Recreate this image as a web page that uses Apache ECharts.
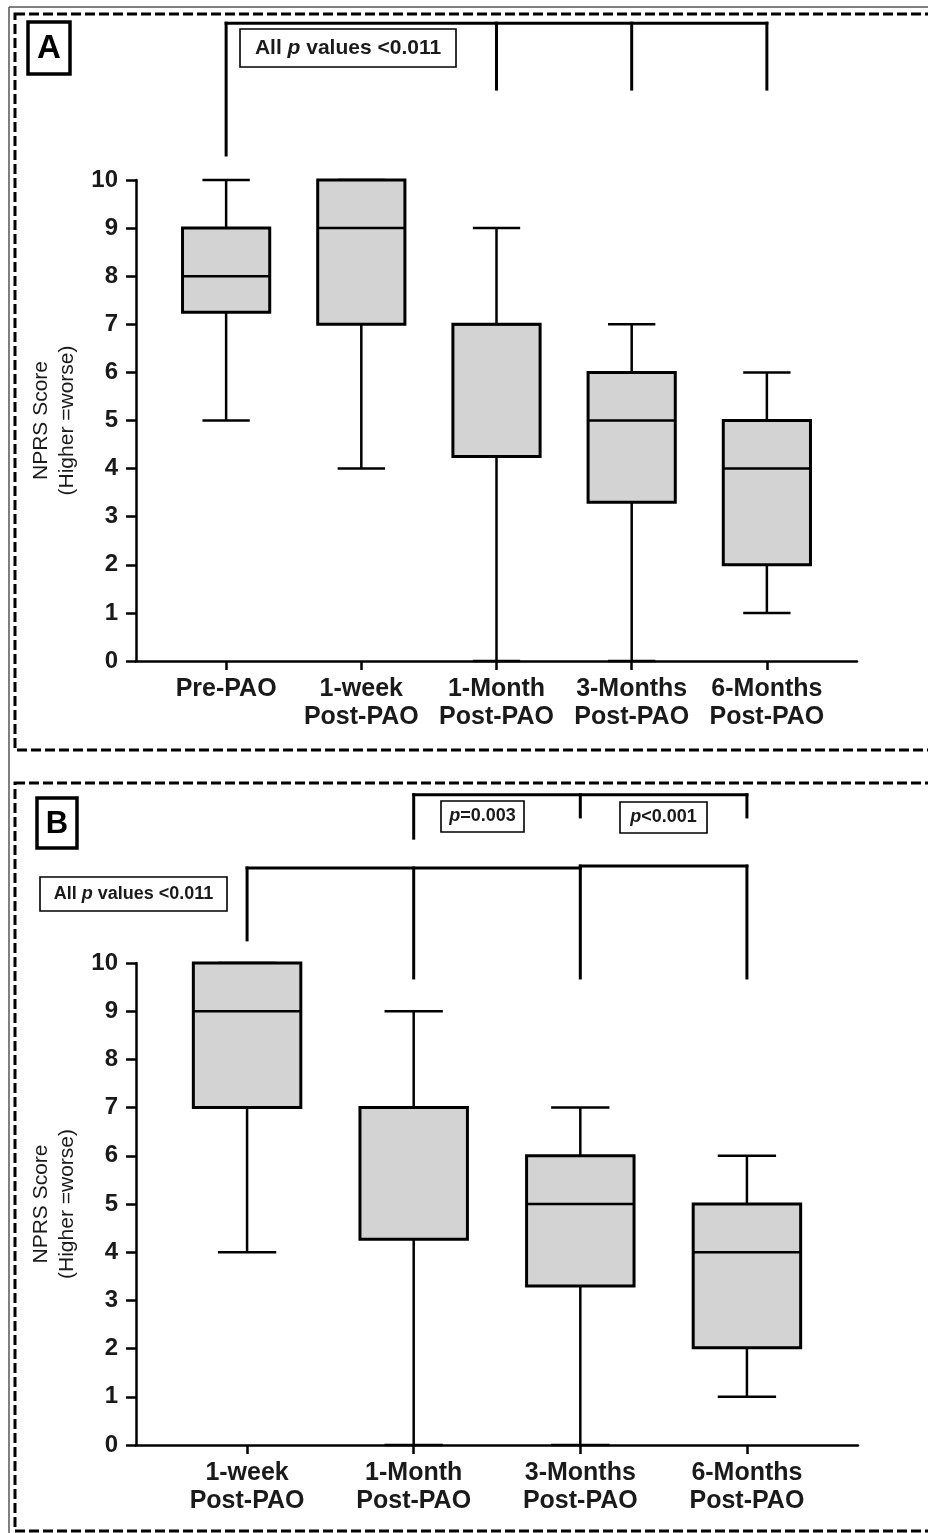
<!DOCTYPE html>
<html>
<head>
<meta charset="utf-8">
<script src="https://cdn.jsdelivr.net/npm/echarts@6/dist/echarts.min.js"></script>
<style>
html,body{margin:0;padding:0;background:#ffffff;}
#c{width:928px;height:1533px;}
</style>
</head>
<body>
<div id="c"></div>
<script>
// ---------- DATA ----------
const categoriesA = ['Pre-PAO', '1-week\nPost-PAO', '1-Month\nPost-PAO', '3-Months\nPost-PAO', '6-Months\nPost-PAO'];
const minA    = [5, 4, 0, 0, 1];
const q1A     = [7.25, 7, 4.25, 3.3, 2];
const medianA = [8, 9, 7, 5, 4];
const q3A     = [9, 10, 7, 6, 5];
const maxA    = [10, 10, 9, 7, 6];

const categoriesB = ['1-week\nPost-PAO', '1-Month\nPost-PAO', '3-Months\nPost-PAO', '6-Months\nPost-PAO'];
const minB    = [4, 0, 0, 1];
const q1B     = [7, 4.27, 3.3, 2.02];
const medianB = [9, 7, 5, 4];
const q3B     = [10, 7, 6, 5];
const maxB    = [10, 9, 7, 6];

const yTicks = [0, 1, 2, 3, 4, 5, 6, 7, 8, 9, 10];
const yAxisName = 'NPRS Score\n(Higher =worse)';

// significance brackets (segments in axis units: [x1, y1, x2, y2])
const bracketsA = [
  [0, 13.26, 4, 13.26],
  [0, 13.26, 0, 10.52],
  [2, 13.26, 2, 11.89],
  [3, 13.26, 3, 11.89],
  [4, 13.26, 4, 11.89]
];
const bracketsB = [
  [0, 11.97, 2, 11.97],
  [2, 12.01, 3, 12.01],
  [0, 11.97, 0, 10.48],
  [1, 11.97, 1, 9.69],
  [2, 12.01, 2, 9.69],
  [3, 12.01, 3, 9.69],
  [1, 13.49, 3, 13.49],
  [1, 13.49, 1, 12.59],
  [2, 13.49, 2, 13.03],
  [3, 13.49, 3, 13.03]
];

// ---------- BUILD ----------
const FONT = '"Liberation Sans", Arial, Helvetica, sans-serif';
const TXT = '#1a1a1a';
const BOX_W = 0.645;
const CAP_W = 0.35;

function buildRows(mins, q1s, meds, q3s, maxs) {
  return mins.map((m, i) => [i, m, q1s[i], meds[i], q3s[i], maxs[i]]);
}

function boxRender(params, api) {
  const x = api.value(0);
  const pMin = api.coord([x, api.value(1)]);
  const pQ1 = api.coord([x, api.value(2)]);
  const pMed = api.coord([x, api.value(3)]);
  const pQ3 = api.coord([x, api.value(4)]);
  const pMax = api.coord([x, api.value(5)]);
  const bw = api.size([BOX_W, 0])[0];
  const cw = api.size([CAP_W, 0])[0];
  const cx = pMin[0];
  const ls = {stroke: '#000', lineWidth: 2.5, fill: null};
  return {
    type: 'group',
    children: [
      {type: 'line', shape: {x1: cx, y1: pMax[1], x2: cx, y2: pQ3[1]}, style: ls},
      {type: 'line', shape: {x1: cx, y1: pQ1[1], x2: cx, y2: pMin[1]}, style: ls},
      {type: 'line', shape: {x1: cx - cw / 2, y1: pMax[1], x2: cx + cw / 2, y2: pMax[1]}, style: ls},
      {type: 'line', shape: {x1: cx - cw / 2, y1: pMin[1], x2: cx + cw / 2, y2: pMin[1]}, style: ls},
      {type: 'rect', shape: {x: cx - bw / 2, y: pQ3[1], width: bw, height: pQ1[1] - pQ3[1]},
        style: {fill: '#d3d3d3', stroke: '#000', lineWidth: 3}},
      {type: 'line', shape: {x1: cx - bw / 2, y1: pMed[1], x2: cx + bw / 2, y2: pMed[1]}, style: ls}
    ]
  };
}

function bracketRender(params, api) {
  const a = api.coord([api.value(0), api.value(1)]);
  const b = api.coord([api.value(2), api.value(3)]);
  return {type: 'line', shape: {x1: a[0], y1: a[1], x2: b[0], y2: b[1]},
    style: {stroke: '#000', lineWidth: 3, lineCap: 'square', fill: null}};
}

function xAxisFor(cats, gridIndex) {
  const idx = cats.map((c, i) => i);
  return {
    type: 'value', gridIndex: gridIndex,
    min: -2 / 3, max: cats.length - 1 + 2 / 3,
    splitLine: {show: false},
    axisLine: {show: true, onZero: false, lineStyle: {color: '#000', width: 2.5}},
    axisTick: {show: true, customValues: idx, length: 9, lineStyle: {color: '#000', width: 2.5}},
    axisLabel: {
      show: true, customValues: idx, margin: 14,
      formatter: v => cats[Math.round(v)],
      fontFamily: FONT, fontWeight: 'bold', fontSize: 25, lineHeight: 28, color: TXT
    }
  };
}

function yAxisFor(gridIndex) {
  return {
    type: 'value', gridIndex: gridIndex, min: 0, max: 10, interval: 1,
    splitLine: {show: false},
    axisLine: {show: true, onZero: false, lineStyle: {color: '#000', width: 2.5}},
    axisTick: {show: true, length: 10, lineStyle: {color: '#000', width: 2.5}},
    axisLabel: {margin: 18, fontFamily: FONT, fontWeight: 'bold', fontSize: 24, color: TXT,
      formatter: v => (yTicks.indexOf(v) >= 0 ? String(v) : '')},
    name: yAxisName, nameLocation: 'middle', nameRotate: 90, nameGap: 50,
    nameTextStyle: {fontFamily: FONT, fontSize: 21, lineHeight: 26, color: TXT, fontWeight: 'normal'}
  };
}

function textBox(x, y, w, h, rich, size) {
  return {
    type: 'group', silent: true,
    children: [
      {type: 'rect', shape: {x: x, y: y, width: w, height: h},
        style: {fill: '#fff', stroke: '#000', lineWidth: 1.6}},
      {type: 'text', x: x + w / 2, y: y + h / 2,
        style: {text: rich, align: 'center', verticalAlign: 'middle',
          rich: {
            b: {fontFamily: FONT, fontWeight: 'bold', fontSize: size, fill: TXT},
            i: {fontFamily: FONT, fontWeight: 'bold', fontStyle: 'italic', fontSize: size, fill: TXT}
          }}}
    ]
  };
}

function panelLabel(x, y, w, h, letter, size) {
  return {
    type: 'group', silent: true,
    children: [
      {type: 'rect', shape: {x: x, y: y, width: w, height: h},
        style: {fill: '#fff', stroke: '#000', lineWidth: 3.5}},
      {type: 'text', x: x + w / 2, y: y + h / 2 + 1,
        style: {text: letter, align: 'center', verticalAlign: 'middle',
          fontFamily: FONT, fontWeight: 'bold', fontSize: size, fill: '#000'}}
    ]
  };
}

const dashed = {stroke: '#000', lineWidth: 3, lineDash: [10, 4], fill: null};

const option = {
  backgroundColor: '#ffffff',
  animation: false,
  grid: [
    {left: 136, top: 180, width: 721, height: 481, outerBoundsMode: 'none', containLabel: false},
    {left: 136, top: 963, width: 722, height: 482, outerBoundsMode: 'none', containLabel: false}
  ],
  xAxis: [xAxisFor(categoriesA, 0), xAxisFor(categoriesB, 1)],
  yAxis: [yAxisFor(0), yAxisFor(1)],
  series: [
    {type: 'custom', xAxisIndex: 0, yAxisIndex: 0, renderItem: boxRender, silent: true, clip: false,
      encode: {x: 0, y: [1, 2, 3, 4, 5]}, data: buildRows(minA, q1A, medianA, q3A, maxA)},
    {type: 'custom', xAxisIndex: 1, yAxisIndex: 1, renderItem: boxRender, silent: true, clip: false,
      encode: {x: 0, y: [1, 2, 3, 4, 5]}, data: buildRows(minB, q1B, medianB, q3B, maxB)},
    {type: 'custom', xAxisIndex: 0, yAxisIndex: 0, renderItem: bracketRender, silent: true, clip: false,
      encode: {x: [0, 2], y: [1, 3]}, data: bracketsA},
    {type: 'custom', xAxisIndex: 1, yAxisIndex: 1, renderItem: bracketRender, silent: true, clip: false,
      encode: {x: [0, 2], y: [1, 3]}, data: bracketsB}
  ],
  graphic: [
    {type: 'line', silent: true, shape: {x1: 9, y1: 7, x2: 940, y2: 7}, style: {stroke: '#555', lineWidth: 1.5}},
    {type: 'line', silent: true, shape: {x1: 9, y1: 7, x2: 9, y2: 1540}, style: {stroke: '#555', lineWidth: 1.5}},
    {type: 'rect', silent: true, shape: {x: 15, y: 14, width: 940, height: 736}, style: dashed},
    {type: 'rect', silent: true, shape: {x: 15, y: 783, width: 940, height: 748}, style: dashed},
    panelLabel(28, 22, 42, 52, 'A', 33),
    panelLabel(37, 798, 40, 50, 'B', 31),
    textBox(240, 29, 216, 38, '{b|All }{i|p}{b| values <0.011}', 21),
    textBox(40, 877, 187, 34, '{b|All }{i|p}{b| values <0.011}', 18),
    textBox(441, 801, 83, 31, '{i|p}{b|=0.003}', 18),
    textBox(620, 802, 87, 31, '{i|p}{b|<0.001}', 18)
  ]
};

const chart = echarts.init(document.getElementById('c'), null, {renderer: 'canvas', width: 928, height: 1533});
chart.setOption(option);
</script>
</body>
</html>
